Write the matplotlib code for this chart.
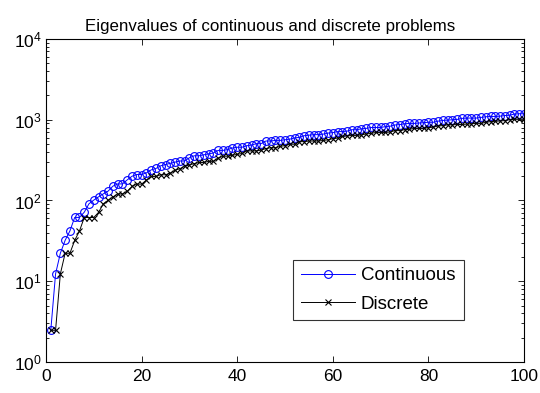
# plots the sorted eigenvalues of the continuous problem against the
# ones of the discrete problem, on a log scale
import matplotlib
matplotlib.use('Agg')
import matplotlib.pyplot as plt
import numpy as np

plt.rcParams['font.family'] = 'Liberation Sans'
plt.rcParams['mathtext.fontset'] = 'custom'
plt.rcParams['mathtext.rm'] = 'Liberation Sans'

# eigenvalue index 1..100
index = list(range(1, 101))

continuous = [
    2.47, 12.34, 22.21, 32.08, 41.95, 61.69, 61.69, 71.56, 91.29, 101.16,
    111.03, 120.90, 130.77, 150.51, 160.38, 160.38, 180.12, 199.86, 209.73, 209.73,
    219.60, 239.34, 249.21, 268.95, 278.82, 288.69, 298.56, 308.43, 308.43, 338.03,
    357.77, 357.77, 367.64, 377.51, 387.38, 416.99, 416.99, 426.86, 446.60, 456.47,
    456.47, 476.21, 486.08, 505.82, 505.82, 545.30, 545.30, 555.17, 555.17, 565.03,
    574.90, 594.64, 604.51, 634.12, 644.00, 653.86, 653.86, 663.73, 683.47, 693.34,
    713.08, 713.08, 722.95, 752.56, 752.56, 772.30, 782.17, 801.91, 801.91, 801.91,
    821.64, 831.51, 861.12, 870.99, 890.73, 900.60, 900.60, 910.47, 920.34, 930.21,
    930.21, 959.82, 979.56, 989.43, 999.30, 1009.17, 1038.78, 1048.65, 1048.65, 1048.65,
    1068.38, 1088.12, 1097.99, 1097.99, 1107.86, 1127.60, 1137.47, 1176.95, 1186.82, 1186.82,
]

discrete = [
    2.47, 2.47, 12.33, 22.19, 22.19, 32.04, 41.89, 61.56, 61.56, 61.56,
    71.38, 91.01, 100.82, 110.62, 120.41, 120.41, 130.20, 149.75, 159.52, 159.52,
    179.03, 198.52, 198.52, 208.26, 208.26, 217.98, 237.42, 247.13, 266.53, 276.22,
    285.90, 295.57, 295.57, 305.24, 305.24, 334.20, 353.48, 353.48, 363.11, 372.74,
    382.35, 411.16, 411.16, 411.16, 420.76, 439.92, 449.49, 449.49, 468.61, 478.16,
    497.25, 497.25, 535.34, 535.34, 544.84, 544.84, 544.84, 554.33, 563.83, 582.79,
    592.27, 620.65, 630.11, 639.54, 639.54, 648.97, 667.82, 677.24, 696.05, 696.05,
    696.05, 705.44, 733.59, 733.59, 752.32, 761.67, 780.37, 780.37, 780.37, 799.02,
    808.35, 836.28, 845.58, 864.15, 864.15, 873.43, 873.43, 882.70, 891.96, 901.22,
    901.22, 928.96, 947.42, 956.63, 965.85, 975.05, 1002.63, 1011.81, 1011.81, 1011.81,
]

fig = plt.figure(figsize=(5.4, 3.93), dpi=100)
ax = fig.add_axes([0.0852, 0.0789, 0.8852, 0.8219])

# both curves, matlab-ish styling
ax.semilogy(index, continuous, '-o', color='b', lw=0.7, ms=5.6,
            mfc='none', mew=0.8, label='Continuous')
ax.semilogy(index, discrete, '-x', color='k', lw=0.7, ms=4.8,
            mew=0.8, label='Discrete')

ax.set_xlim(0, 100)
ax.set_ylim(1, 1e4)
ax.set_xticks([0, 20, 40, 60, 80, 100])
ax.set_yticks([1, 10, 100, 1000, 10000])

# ticks inside on all four sides
ax.tick_params(which='both', direction='in', top=True, right=True,
               labelsize=12.5, width=0.6)
ax.tick_params(which='major', length=4)
ax.tick_params(axis='x', which='major', pad=5)
ax.tick_params(axis='y', which='major', pad=3)
ax.tick_params(which='minor', length=2.2)
for s in ax.spines.values():
    s.set_linewidth(0.8)

# title sits centred on the figure rather than the axes
ax.set_title('Eigenvalues of continuous and discrete problems',
             fontsize=12.2, pad=6, x=0.469)

leg = ax.legend(loc='lower left', bbox_to_anchor=(0.517, 0.13, 0.358, 0.207),
                mode='expand', numpoints=1, fancybox=False, fontsize=13.5,
                handlelength=2.9, handletextpad=0.3, labelspacing=0.6,
                borderpad=0.4, borderaxespad=0.)
leg.get_frame().set_edgecolor('k')
leg.get_frame().set_linewidth(0.8)

plt.savefig('out.png', dpi=100)
